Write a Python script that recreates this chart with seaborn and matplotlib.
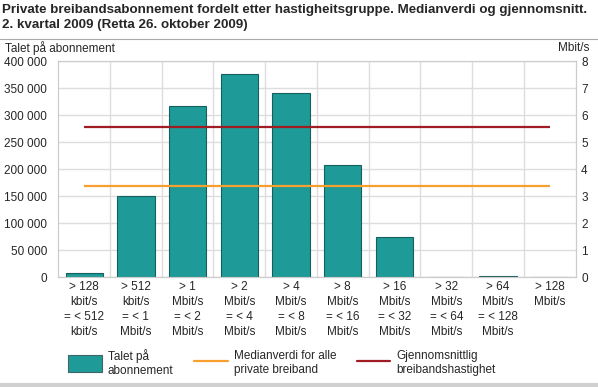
import numpy as np
import pandas as pd
import matplotlib
matplotlib.use('Agg')
import matplotlib.pyplot as plt
import seaborn as sns
from matplotlib.patches import Patch
from matplotlib.lines import Line2D
from matplotlib.ticker import FuncFormatter, MultipleLocator

sns.set_style('white')
plt.rcParams['font.family'] = ['Liberation Sans', 'DejaVu Sans']

# data
categories = ['> 128\nkbit/s\n= < 512\nkbit/s', '> 512\nkbit/s\n= < 1\nMbit/s',
              '> 1\nMbit/s\n= < 2\nMbit/s', '> 2\nMbit/s\n= < 4\nMbit/s',
              '> 4\nMbit/s\n= < 8\nMbit/s', '> 8\nMbit/s\n= < 16\nMbit/s',
              '> 16\nMbit/s\n= < 32\nMbit/s', '> 32\nMbit/s\n= < 64\nMbit/s',
              '> 64\nMbit/s\n= < 128\nMbit/s', '> 128\nMbit/s']
subscriptions = [7500, 150000, 318000, 376000, 341000, 207500, 75500, 0, 2000, 0]
median_speed = 3.4
mean_speed = 5.55

bar_col = '#1e9b98'
median_col = '#f7a030'
mean_col = '#a01c22'

df = pd.DataFrame({'kat': categories, 'abonnement': subscriptions})

fig = plt.figure(figsize=(5.98, 3.87), dpi=100)
ax = fig.add_axes([0.0975, 0.2835, 0.865, 0.558])

sns.barplot(data=df, x='kat', y='abonnement', color=bar_col, width=0.72,
            edgecolor='#155f5c', linewidth=0.8, saturation=1, ax=ax)

ax.set_ylim(0, 400000)
ax.set_xlim(-0.5, len(categories) - 0.5)
ax.yaxis.set_major_locator(MultipleLocator(50000))
ax.yaxis.set_major_formatter(FuncFormatter(lambda v, p: f'{int(v):,}'.replace(',', ' ')))
ax.set_xticks(np.arange(len(categories)))
ax.set_xticklabels(categories, fontsize=8.5, linespacing=1.3)
ax.set_xticks(np.arange(len(categories) - 1) + 0.5, minor=True)
ax.tick_params(axis='x', which='both', length=0, pad=3)
ax.tick_params(axis='y', length=0, pad=8, labelsize=8.5)
ax.grid(axis='y', color='#dddddd', lw=1)
ax.grid(axis='x', which='minor', color='#dddddd', lw=1)
ax.set_axisbelow(True)
ax.set_xlabel('')
ax.set_ylabel('')
for s in ax.spines.values():
    s.set_color('#cccccc')

ax2 = ax.twinx()
xpos = np.arange(len(categories))
ax2.hlines(median_speed, xpos[0], xpos[-1], color=median_col, lw=1.6)
ax2.hlines(mean_speed, xpos[0], xpos[-1], color=mean_col, lw=1.6)
ax2.set_ylim(0, 8)
ax2.yaxis.set_major_locator(MultipleLocator(1))
ax2.tick_params(axis='y', length=0, pad=4, labelsize=8.5)
for s in ax2.spines.values():
    s.set_color('#cccccc')

fig.text(0.004, 0.99, 'Private breibandsabonnement fordelt etter hastigheitsgruppe. Medianverdi og gjennomsnitt.\n'
         '2. kvartal 2009 (Retta 26. oktober 2009)', fontsize=9.6, fontweight='bold',
         va='top', ha='left', linespacing=1.4)
fig.add_artist(Line2D([0, 1], [0.9, 0.9], color='#aaaaaa', lw=0.8, transform=fig.transFigure))
fig.text(0.008, 0.876, 'Talet på abonnement', fontsize=8.5, va='center', ha='left')
fig.text(0.985, 0.876, 'Mbit/s', fontsize=8.5, va='center', ha='right')
fig.add_artist(Line2D([0, 1], [0.004, 0.004], color='#d0d0d0', lw=3, transform=fig.transFigure))

handles = [Patch(facecolor=bar_col, edgecolor='#3d6664', lw=0.8),
           Line2D([], [], color=median_col, lw=1.6),
           Line2D([], [], color=mean_col, lw=1.6)]
labels = ['Talet på\nabonnement', 'Medianverdi for alle\nprivate breiband', 'Gjennomsnittlig\nbreibandshastighet']
fig.legend(handles, labels, loc='upper left', bbox_to_anchor=(0.114, 0.098), ncol=3,
           frameon=False, fontsize=8.5, handlelength=2.85, handleheight=1.75,
           handletextpad=0.5, columnspacing=1.75, borderaxespad=0, borderpad=0)

fig.savefig('out.png', dpi=100)
